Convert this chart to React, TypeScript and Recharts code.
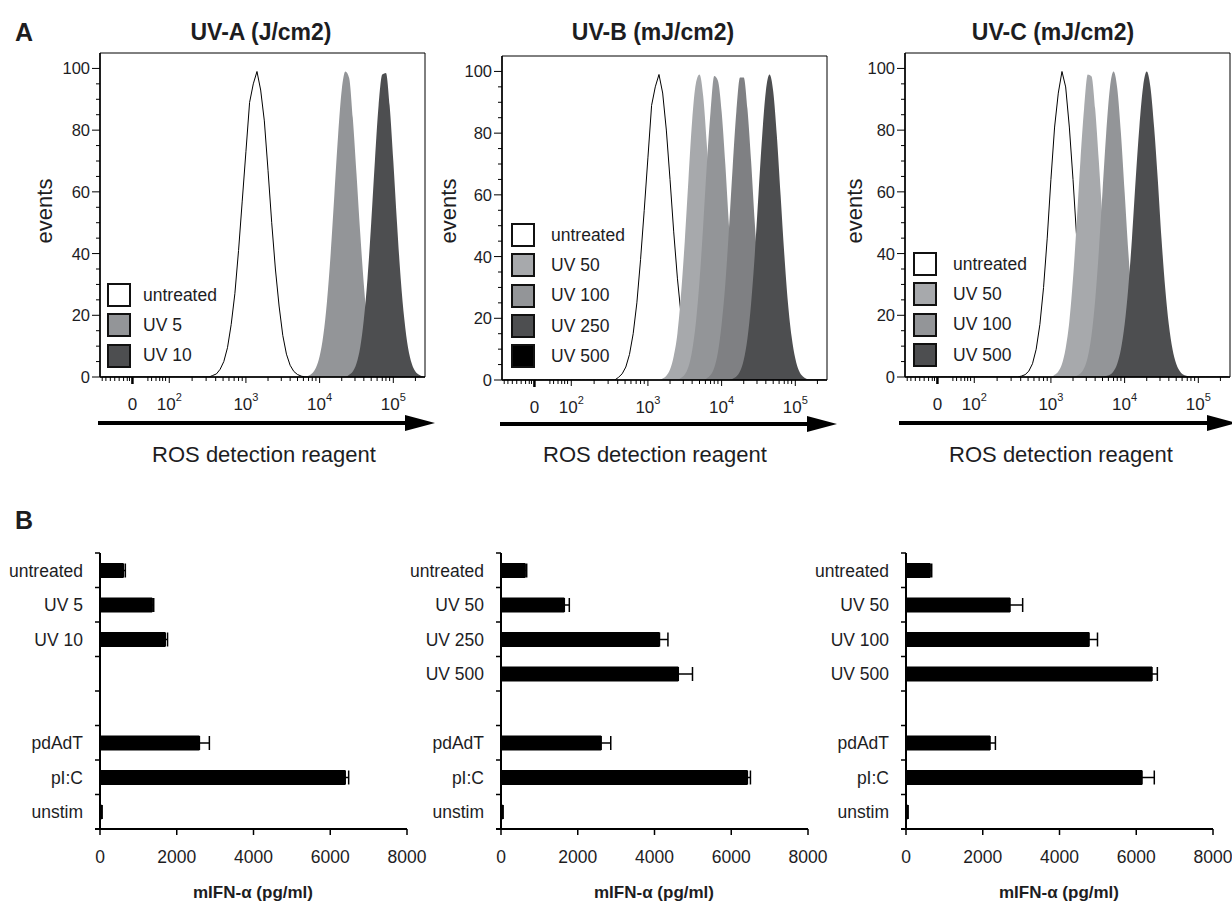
import React from "react";
import {
  Area,
  AreaChart,
  Bar,
  BarChart,
  ErrorBar,
  Legend,
  ReferenceArea,
  XAxis,
  YAxis,
} from "recharts";

const FONT = '"Liberation Sans", Arial, Helvetica, sans-serif';
const INK = "#1d1d1f";

const WHITE = "#ffffff";
const LIGHT = "#a7a9ac";
const MID = "#939598";
const STEEL = "#7f8083";
const DARK = "#4d4e50";
const BLACK = "#000000";

// ---- flow histograms (panel A) ----
// x is in display decades (3 = 10^3); each curve lists event counts every 0.05 decade, starting at `from`
const STEP = 0.05;
const GRID_START = 1.05;
const GRID_END = 5.4;
const X_DOMAIN = [1.02, 5.43];
const Y_DOMAIN = [0, 105];

type Curve = { from: number; ys: number[] };

const uvaUntreated: Curve = {
  from: 2.55,
  ys: [0.5, 1, 2.5, 5, 9.5, 17, 27, 41, 57, 73, 89, 95, 99, 93, 83, 67, 50, 35, 23, 13.5, 7.4, 3.8, 1.8, 0.8, 0.3],
};
const uvaDose5: Curve = {
  from: 3.85,
  ys: [0.4, 1.2, 3, 6.7, 13.5, 24.5, 40, 59, 78, 93, 99, 97, 84, 66, 47, 30, 17, 9, 4, 1.8, 0.7, 0.2],
};
const uvaDose10: Curve = {
  from: 4.4,
  ys: [0.7, 1.8, 4.4, 9.5, 18.6, 32, 50, 70, 88, 98, 98.5, 88, 70, 50, 32, 18.6, 9.5, 4.4, 1.8, 0.7, 0.2],
};

const uvbUntreated: Curve = {
  from: 2.6,
  ys: [0.85, 2, 4.2, 8.3, 15, 25, 39, 55, 72, 89, 95, 99, 93, 81, 65, 48, 33, 21, 12, 6.4, 3.2, 1.4, 0.6],
};
const uvbDose50: Curve = {
  from: 3.2,
  ys: [0.5, 1.4, 3.4, 7.7, 15, 28, 45, 65, 84, 96, 99, 92, 76, 57, 37, 22, 12, 5.6, 2.4, 0.9, 0.3],
};
const uvbDose100: Curve = {
  from: 3.45,
  ys: [0.7, 1.8, 4.3, 9.5, 18.4, 32, 50, 70, 87, 98.5, 97, 87, 70, 50, 32, 18.4, 9.5, 4.3, 1.8, 0.7],
};
const uvbDose250: Curve = {
  from: 3.8,
  ys: [0.6, 1.6, 4, 9, 18, 31, 49, 69, 87, 98, 98, 88, 71, 51, 33, 19, 10, 4.6, 2, 0.8],
};
const uvbDose500: Curve = {
  from: 4.15,
  ys: [0.4, 1.1, 2.8, 6.5, 13.4, 24.7, 40.7, 60, 79, 93.6, 99, 93.6, 79, 60, 41, 25, 14, 7, 3, 1.2, 0.4],
};

const uvcUntreated: Curve = {
  from: 2.6,
  ys: [0.3, 0.75, 1.9, 4.3, 9, 17, 29, 45, 64, 81, 92, 99, 94, 81, 64, 45, 29, 17, 9, 4.3, 1.9, 0.75, 0.3],
};
const uvcDose50: Curve = {
  from: 3.05,
  ys: [0.7, 1.8, 4.2, 9.3, 18, 32, 50, 70, 87, 98, 97.5, 87, 70, 51, 33, 19, 10, 4.5, 1.9, 0.7],
};
const uvcDose100: Curve = {
  from: 3.35,
  ys: [0.4, 1.1, 2.8, 6.5, 13.4, 24.7, 40.7, 60, 79, 93.6, 99, 93.6, 79, 60, 40.7, 24.7, 13.4, 6.5, 2.8, 1.1, 0.4],
};
const uvcDose500: Curve = {
  from: 3.75,
  ys: [0.3, 0.75, 1.9, 4.3, 9, 17, 29, 45, 64, 81, 94, 99, 94, 81, 64, 45, 29, 17, 9, 4.3, 1.9, 0.75, 0.3],
};

// axis ticks (display decades)
const X_MAJOR = [
  { v: 1.46, label: "0", sup: "" },
  { v: 1.96, label: "10", sup: "2" },
  { v: 3, label: "10", sup: "3" },
  { v: 4, label: "10", sup: "4" },
  { v: 5, label: "10", sup: "5" },
];
const X_MINOR = [
  1.05, 1.1, 1.16, 1.22, 1.28, 1.34, 1.39, 1.42,
  1.67, 1.72, 1.78, 1.83, 1.87, 1.91,
  2.27, 2.46, 2.59, 2.69, 2.77, 2.84, 2.9, 2.95,
  3.3, 3.48, 3.6, 3.7, 3.78, 3.85, 3.9, 3.95,
  4.3, 4.48, 4.6, 4.7, 4.78, 4.85, 4.9, 4.95,
  5.3,
];
const X_TICKS = [...X_MINOR, ...X_MAJOR.map((m) => m.v)].sort((a, b) => a - b);
const Y_TICKS = [0, 5, 10, 15, 20, 25, 30, 35, 40, 45, 50, 55, 60, 65, 70, 75, 80, 85, 90, 95, 100];

type Series = { key: string; curve: Curve; fill: string; outline?: boolean };
type LegendItem = { label: string; fill: string };

type HistDef = {
  left: number;
  top: number;
  title: string;
  titleX: number;
  labelX: number;
  eventsX: number;
  arrow: [number, number, number];
  series: Series[];
  legend: { left: number; top: number; gap: number; items: LegendItem[] };
};

const HISTS: HistDef[] = [
  {
    left: 0,
    top: 0,
    title: "UV-A (J/cm2)",
    titleX: 261,
    labelX: 264,
    eventsX: 45,
    arrow: [98, 435, 423],
    series: [
      { key: "untreated", curve: uvaUntreated, fill: WHITE, outline: true },
      { key: "uv5", curve: uvaDose5, fill: MID },
      { key: "uv10", curve: uvaDose10, fill: DARK },
    ],
    legend: {
      left: 107,
      top: 280,
      gap: 12,
      items: [
        { label: "untreated", fill: WHITE },
        { label: "UV 5", fill: MID },
        { label: "UV 10", fill: DARK },
      ],
    },
  },
  {
    left: 402,
    top: 3,
    title: "UV-B (mJ/cm2)",
    titleX: 653,
    labelX: 655,
    eventsX: 449,
    arrow: [500, 837, 424],
    series: [
      { key: "untreated", curve: uvbUntreated, fill: WHITE, outline: true },
      { key: "uv50", curve: uvbDose50, fill: LIGHT },
      { key: "uv100", curve: uvbDose100, fill: MID },
      { key: "uv250", curve: uvbDose250, fill: STEEL },
      { key: "uv500", curve: uvbDose500, fill: DARK },
    ],
    legend: {
      left: 109,
      top: 217,
      gap: 16,
      items: [
        { label: "untreated", fill: WHITE },
        { label: "UV 50", fill: LIGHT },
        { label: "UV 100", fill: MID },
        { label: "UV 250", fill: DARK },
        { label: "UV 500", fill: BLACK },
      ],
    },
  },
  {
    left: 805,
    top: 0,
    title: "UV-C (mJ/cm2)",
    titleX: 1053,
    labelX: 1061,
    eventsX: 855,
    arrow: [899, 1237, 423],
    series: [
      { key: "untreated", curve: uvcUntreated, fill: WHITE, outline: true },
      { key: "uv50", curve: uvcDose50, fill: LIGHT },
      { key: "uv100", curve: uvcDose100, fill: MID },
      { key: "uv500", curve: uvcDose500, fill: DARK },
    ],
    legend: {
      left: 108,
      top: 249,
      gap: 16,
      items: [
        { label: "untreated", fill: WHITE },
        { label: "UV 50", fill: LIGHT },
        { label: "UV 100", fill: MID },
        { label: "UV 500", fill: DARK },
      ],
    },
  },
];

// ---- IFN-alpha bars (panel B) ----
const B_TICKS = [0, 2000, 4000, 6000, 8000];

const uvaLabels = ["untreated", "UV 5", "UV 10", "", "", "pdAdT", "pI:C", "unstim"];
const uvaMean = [610, 1360, 1700, null, null, 2590, 6390, 40];
const uvaSem = [50, 40, 60, null, null, 260, 90, 15];

const uvbLabels = ["untreated", "UV 50", "UV 250", "UV 500", "", "pdAdT", "pI:C", "unstim"];
const uvbMean = [630, 1650, 4130, 4620, null, 2610, 6420, 40];
const uvbSem = [40, 130, 220, 370, null, 250, 80, 15];

const uvcLabels = ["untreated", "UV 50", "UV 100", "UV 500", "", "pdAdT", "pI:C", "unstim"];
const uvcMean = [630, 2710, 4770, 6410, null, 2190, 6150, 40];
const uvcSem = [40, 330, 220, 140, null, 140, 320, 15];

const BARS = [
  { left: 0, labels: uvaLabels, mean: uvaMean, sem: uvaSem },
  { left: 401, labels: uvbLabels, mean: uvbMean, sem: uvbSem },
  { left: 806, labels: uvcLabels, mean: uvcMean, sem: uvcSem },
];

function buildTable(series: Series[]) {
  const rows: Record<string, number>[] = [];
  for (let i = 0; GRID_START + i * STEP <= GRID_END + 1e-9; i++) {
    const x = Math.round((GRID_START + i * STEP) * 100) / 100;
    const row: Record<string, number> = { x };
    for (const s of series) {
      const k = Math.round((x - s.curve.from) / STEP);
      row[s.key] = s.curve.ys[k] ?? 0;
    }
    rows.push(row);
  }
  return rows;
}

function HistTickX(props: any) {
  const { x, y, payload } = props;
  const major = X_MAJOR.find((m) => Math.abs(m.v - payload.value) < 1e-6);
  const isZero = major && major.label === "0";
  return (
    <g>
      <line
        x1={x}
        x2={x}
        y1={y}
        y2={y + (isZero ? 7 : major ? 6 : 4)}
        stroke="#000"
        strokeWidth={isZero ? 2.5 : 1}
      />
      {major && (
        <text x={x} y={y + 33} textAnchor="middle" fontSize={17} fill={INK} fontFamily={FONT}>
          {major.label}
          {major.sup && (
            <tspan dy={-9} fontSize={11}>
              {major.sup}
            </tspan>
          )}
        </text>
      )}
    </g>
  );
}

function HistTickY(props: any) {
  const { x, y, payload } = props;
  const major = payload.value % 20 === 0;
  return (
    <g>
      <line x1={x - (major ? 8 : 4)} x2={x} y1={y} y2={y} stroke="#000" strokeWidth={1} />
      {major && (
        <text x={x - 10} y={y} dy="0.36em" textAnchor="end" fontSize={16.5} fill={INK} fontFamily={FONT}>
          {payload.value}
        </text>
      )}
    </g>
  );
}

function Txt({
  x,
  y,
  size,
  bold,
  rotate,
  children,
}: {
  x: number;
  y: number;
  size: number;
  bold?: boolean;
  rotate?: boolean;
  children: React.ReactNode;
}) {
  return (
    <div
      style={{
        position: "absolute",
        left: x,
        top: y,
        transform: `translate(-50%, -50%)${rotate ? " rotate(-90deg)" : ""}`,
        fontSize: size,
        fontWeight: bold ? 700 : 400,
        whiteSpace: "nowrap",
        lineHeight: 1,
        color: INK,
      }}
    >
      {children}
    </div>
  );
}

function Arrow({ x1, x2, y }: { x1: number; x2: number; y: number }) {
  const len = x2 - x1;
  return (
    <svg style={{ position: "absolute", left: x1, top: y - 9 }} width={len} height={18}>
      <rect x={0} y={7} width={len - 28} height={4} fill="#000" />
      <polygon points={`${len - 30},1 ${len},9 ${len - 30},17`} fill="#000" />
    </svg>
  );
}

function HistPanel({ p }: { p: HistDef }) {
  const data = buildTable(p.series);
  return (
    <div style={{ position: "absolute", left: p.left, top: p.top }}>
      <AreaChart width={428} height={470} data={data} margin={{ top: 53, right: 3, bottom: 63, left: 60 }}>
        <XAxis
          dataKey="x"
          type="number"
          domain={X_DOMAIN}
          ticks={X_TICKS}
          interval={0}
          allowDataOverflow
          height={30}
          tickSize={0}
          tickMargin={0}
          tickLine={false}
          axisLine={{ stroke: "#000", strokeWidth: 1.5 }}
          tick={(t: any) => <HistTickX {...t} />}
        />
        <YAxis
          type="number"
          domain={Y_DOMAIN}
          ticks={Y_TICKS}
          interval={0}
          allowDataOverflow
          width={40}
          tickSize={0}
          tickMargin={0}
          tickLine={false}
          axisLine={{ stroke: "#000", strokeWidth: 1.5 }}
          tick={(t: any) => <HistTickY {...t} />}
        />
        {p.series.map((s) => (
          <Area
            key={s.key}
            dataKey={s.key}
            type={s.outline ? "linear" : "monotone"}
            fill={s.fill}
            fillOpacity={1}
            stroke={s.outline ? "#000" : "none"}
            strokeWidth={1}
            dot={false}
            activeDot={false}
            isAnimationActive={false}
          />
        ))}
        <ReferenceArea
          x1={X_DOMAIN[0]}
          x2={X_DOMAIN[1]}
          y1={Y_DOMAIN[0]}
          y2={Y_DOMAIN[1]}
          fill="none"
          stroke="#000"
          strokeWidth={1}
          ifOverflow="visible"
        />
        <Legend
          layout="vertical"
          align="center"
          verticalAlign="middle"
          wrapperStyle={{ left: p.legend.left, top: p.legend.top, width: "auto", height: "auto" }}
          content={() => (
            <div style={{ fontFamily: FONT }}>
              {p.legend.items.map((it) => (
                <div key={it.label} style={{ display: "flex", alignItems: "center", height: 30.3 }}>
                  <div
                    style={{
                      width: 24,
                      height: 24,
                      boxSizing: "border-box",
                      border: "2px solid #111",
                      background: it.fill,
                    }}
                  />
                  <span style={{ marginLeft: p.legend.gap, fontSize: 17.5, color: INK }}>{it.label}</span>
                </div>
              ))}
            </div>
          )}
        />
      </AreaChart>
    </div>
  );
}

const BAND = 276 / 8;

function CatTick(props: any) {
  const { x, y, index, labels } = props;
  const last = index === labels.length - 1;
  return (
    <g>
      <line x1={x - 5} x2={x} y1={y - BAND / 2} y2={y - BAND / 2} stroke="#000" strokeWidth={1.5} />
      {last && <line x1={x - 5} x2={x} y1={y + BAND / 2} y2={y + BAND / 2} stroke="#000" strokeWidth={2} />}
      <text x={x - 17} y={y} dy="0.36em" textAnchor="end" fontSize={17.5} fill={INK} fontFamily={FONT}>
        {labels[index]}
      </text>
    </g>
  );
}

function BarPanel({ b }: { b: (typeof BARS)[number] }) {
  const rows = b.labels.map((label, i) => ({
    cat: "c" + i,
    label,
    mean: b.mean[i],
    err: b.mean[i] == null ? null : [0, b.sem[i] as number],
  }));
  return (
    <div style={{ position: "absolute", left: b.left, top: 500 }}>
      <BarChart
        layout="vertical"
        width={445}
        height={400}
        data={rows}
        margin={{ top: 53, right: 38, bottom: 41, left: 10 }}
      >
        <XAxis
          type="number"
          domain={[0, 8000]}
          ticks={B_TICKS}
          interval={0}
          height={30}
          tickSize={6}
          tickMargin={16}
          tickLine={{ stroke: "#000", strokeWidth: 1.5 }}
          axisLine={{ stroke: "#000", strokeWidth: 2 }}
          tick={{ fontSize: 17.5, fill: INK, fontFamily: FONT }}
        />
        <YAxis
          type="category"
          dataKey="cat"
          width={90}
          interval={0}
          tickSize={0}
          tickMargin={0}
          tickLine={false}
          axisLine={{ stroke: "#000", strokeWidth: 2 }}
          tick={(t: any) => <CatTick {...t} labels={b.labels} />}
        />
        <Bar dataKey="mean" fill="#000" barSize={15} isAnimationActive={false}>
          <ErrorBar dataKey="err" direction="x" width={7} stroke="#000" strokeWidth={1.5} />
        </Bar>
      </BarChart>
      <Txt x={253} y={392} size={17} bold>
        mIFN-α (pg/ml)
      </Txt>
    </div>
  );
}

export default function App() {
  return (
    <div
      style={{
        position: "absolute",
        left: 0,
        top: 0,
        width: 1232,
        height: 901,
        overflow: "hidden",
        background: "#fff",
        fontFamily: FONT,
        color: INK,
      }}
    >
      {HISTS.map((p) => (
        <HistPanel key={p.title} p={p} />
      ))}
      {HISTS.map((p) => (
        <React.Fragment key={p.title + "-txt"}>
          <Txt x={p.titleX} y={32} size={23} bold>
            {p.title}
          </Txt>
          <Txt x={p.eventsX} y={211} size={22} rotate>
            events
          </Txt>
          <Arrow x1={p.arrow[0]} x2={p.arrow[1]} y={p.arrow[2]} />
          <Txt x={p.labelX} y={455} size={22}>
            ROS detection reagent
          </Txt>
        </React.Fragment>
      ))}
      {BARS.map((b) => (
        <BarPanel key={b.left} b={b} />
      ))}
      <Txt x={24} y={32} size={25} bold>
        A
      </Txt>
      <Txt x={24} y={520} size={25} bold>
        B
      </Txt>
    </div>
  );
}
